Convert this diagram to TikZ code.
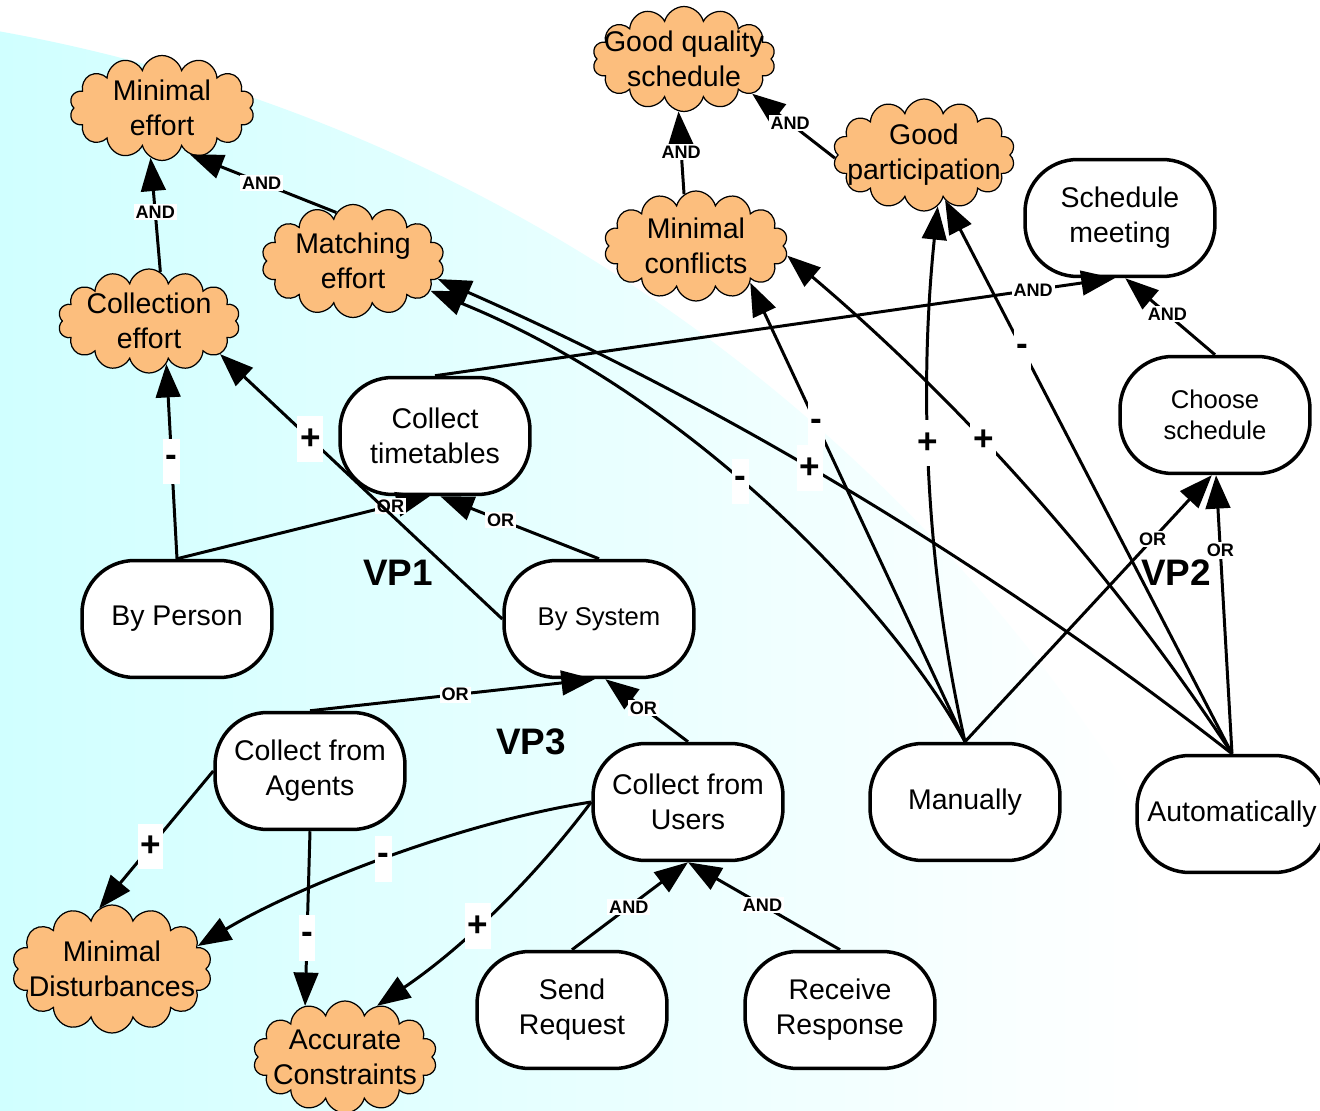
\documentclass[tikz,border=0pt]{standalone}
\usepackage{fontspec}
\setmainfont{Liberation Sans}
\usetikzlibrary{shapes.symbols,arrows.meta,calc}

\definecolor{goalfill}{RGB}{252,190,125}
\definecolor{bgcyan}{RGB}{208,255,255}

\begin{document}
\begin{tikzpicture}[x=0.02cm,y=-0.02cm,
  task/.style={draw,line width=2pt,fill=white,rounded corners=1.05cm,
    minimum width=3.8cm,minimum height=2.34cm,inner sep=0pt,align=center,
    font=\fontsize{16.2}{19.9}\selectfont},
  smalltask/.style={task,font=\fontsize{14.6}{17.6}\selectfont},
  soft/.style={cloud,cloud puffs=14,cloud ignores aspect,draw,line width=0.7pt,
    fill=goalfill,minimum width=3.68cm,minimum height=2.16cm,inner sep=0pt,
    align=center,font=\fontsize{16.2}{19.9}\selectfont},
  link/.style={line width=1.7pt,-{Triangle[length=19pt,width=14pt]}},
  dec/.style={fill=white,inner sep=1pt,font=\fontsize{10.3}{11}\selectfont\bfseries},
  contrib/.style={fill=white,inner xsep=1.5pt,inner ysep=0pt,minimum height=26pt,
    font=\fontsize{20}{21}\selectfont\bfseries},
  vp/.style={font=\fontsize{21}{22}\selectfont\bfseries}
]
\useasboundingbox (0,0) rectangle (1320,1111);
\fill[white] (0,0) rectangle (1320,1111);

% shaded backdrop
\begin{scope}
  \clip (-304,1704) circle [radius=34cm];
  \shade[left color=bgcyan,right color=white] (0,0) rectangle (1150,1111);
\end{scope}

% softgoals (text lines set in zero-width boxes so the cloud keeps its size)
\node[soft,minimum width=3.7cm,minimum height=2.1cm] (mineff) at (162,108)
  {\makebox[0pt]{Minimal}\\\makebox[0pt]{effort}};
\node[soft,minimum width=3.64cm,minimum height=2.08cm] (colleff) at (149,321)
  {\makebox[0pt]{Collection}\\\makebox[0pt]{effort}};
\node[soft,minimum width=3.66cm,minimum height=2.26cm] (matcheff) at (353,261)
  {\makebox[0pt]{Matching}\\\makebox[0pt]{effort}};
\node[soft,minimum width=3.66cm,minimum height=2.1cm] (gqs) at (684,59)
  {\makebox[0pt]{Good quality}\\\makebox[0pt]{schedule}};
\node[soft,minimum width=3.68cm,minimum height=2.2cm] (minconf) at (696,246)
  {\makebox[0pt]{Minimal}\\\makebox[0pt]{conflicts}};
\node[soft,minimum width=3.64cm,minimum height=2.24cm] (goodpart) at (924,155)
  {\makebox[0pt]{Good}\\\makebox[0pt]{participation}};
\node[soft,minimum width=4cm,minimum height=2.56cm] (mindist) at (112,969)
  {\makebox[0pt]{Minimal}\\\makebox[0pt]{Disturbances}};
\node[soft,minimum width=3.68cm,minimum height=2.24cm] (acccons) at (345,1057)
  {\makebox[0pt]{Accurate}\\\makebox[0pt]{Constraints}};

% tasks
\node[task]      (schedmeet) at (1120,218) {Schedule\\meeting};
\node[smalltask] (choose)    at (1215,415) {Choose\\schedule};
\node[task]      (colltt)    at (435,436)  {Collect\\timetables};
\node[task]      (byperson)  at (177,619)  {By Person};
\node[smalltask] (bysys)     at (599,619)  {By System};
\node[task]      (collag)    at (310,771)  {Collect from\\Agents};
\node[task]      (collus)    at (688,802)  {Collect from\\Users};
\node[task]      (manual)    at (965,802)  {Manually};
\node[task]      (auto)      at (1232,814) {Automatically};
\node[task]      (sendreq)   at (572,1010) {Send\\Request};
\node[task]      (recvresp)  at (840,1010) {Receive\\Response};

% variation points
\node[vp] (vp1) at (398,573) {VP1};
\node[vp] (vp2) at (1176,573) {VP2};
\node[vp] (vp3) at (531,742) {VP3};

% AND / OR decompositions
\draw[link] (colleff.77) -- node[dec,pos=0.52]{AND} (mineff.-103);
\draw[link] (matcheff.109) -- node[dec,pos=0.51]{AND} (mineff.-59);
\draw[link] (minconf.103) -- node[dec,pos=0.51]{AND} (gqs.-96);
\draw[link] (goodpart.182) -- node[dec,pos=0.54]{AND} (gqs.-27);
\draw[link] (colltt.north) -- node[dec,pos=0.88]{AND} (schedmeet.-95);
\draw[link] (choose.north) -- node[dec,pos=0.53]{AND} (schedmeet.-85);
\draw[link] (byperson.north) -- node[dec,pos=0.845]{OR} (colltt.-95);
\draw[link] (bysys.north) -- node[dec,pos=0.62]{OR} (colltt.-85);
\draw[link] (collag.north) -- node[dec,pos=0.51]{OR} (bysys.-94);
\draw[link] (collus.north) -- node[dec,pos=0.54]{OR} (bysys.-84);
\draw[link] (sendreq.north) -- node[dec,pos=0.49]{AND} (collus.south);
\draw[link] (recvresp.north) -- node[dec,pos=0.51]{AND} (collus.south);
\draw[link] (manual.north) -- node[dec,pos=0.76]{OR} (choose.-93);
\draw[link] (auto.north) -- node[dec,pos=0.73]{OR} (choose.-89);

% contributions
\draw[link] (byperson.north) -- node[contrib,pos=0.5]{-} (colleff.-68);
\draw[link] (bysys.west) -- node[contrib,pos=0.68]{+} (colleff.-25);
\draw[link] (collag.west) -- node[contrib,pos=0.55]{+} (mindist.102);
\draw[link] (collag.south) -- node[contrib,pos=0.61]{-} (acccons.128);
\draw[link] (collus.west) .. controls +(-130,20) and +(100,-60) .. node[contrib,pos=0.5]{-} (mindist.15);
\draw[link] (collus.west) .. controls (532,881) and (461,949) .. node[contrib,pos=0.57]{+} (acccons.58);
\draw[link] (manual.north) .. controls (900,620) and (700,400) .. node[contrib,pos=0.56]{-} (matcheff.-21);
\draw[link] (auto.north) .. controls (988,563) and (722,404) .. node[contrib,pos=0.55]{+} (matcheff.-12);
\draw[link] (manual.north) -- node[contrib,pos=0.69]{-} (minconf.-34);
\draw[link] (auto.north) .. controls (1110,568) and (960,402) .. node[contrib,pos=0.6]{+} (minconf.-6);
\draw[link] (manual.north) .. controls (925,565) and (919,386) .. node[contrib,pos=0.56]{+} (goodpart.-75);
\draw[link] (auto.north) -- node[contrib,pos=0.73]{-} (goodpart.-65);
\end{tikzpicture}
\end{document}
